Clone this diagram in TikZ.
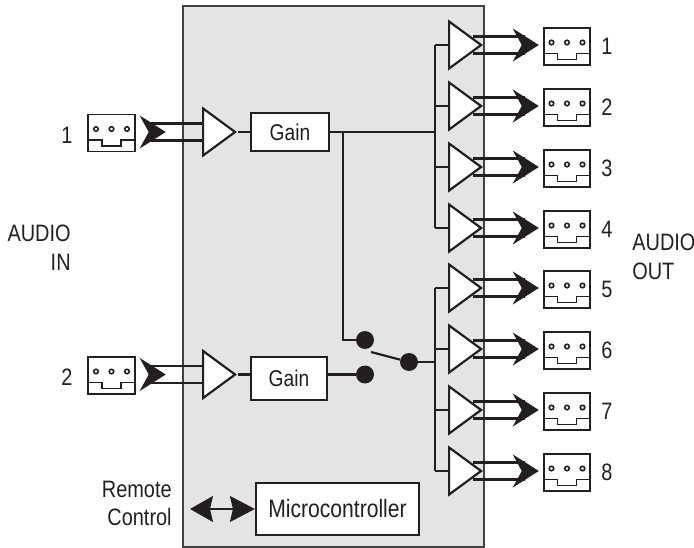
\documentclass[tikz,border=0pt]{standalone}
\usepackage{fontspec}
\setmainfont[FakeStretch=0.84]{Liberation Sans}
\usepackage{tikz}
\usetikzlibrary{arrows.meta,calc,shapes.geometric}
\definecolor{inkblack}{HTML}{231F20}
\definecolor{panelgray}{HTML}{E3E4E6}
\tikzset{
wire/.style={draw=inkblack,line width=1.25pt},
fat/.style={draw=inkblack,line width=0.6pt,-{Stealth[length=0.52cm,width=0.66cm,inset=0.18cm]}},
amp/.style={draw=inkblack,line width=1.25pt,fill=white,isosceles triangle,isosceles triangle stretches,inner sep=0pt,minimum width=0.94cm,minimum height=0.64cm,anchor=lower side},
block/.style={draw=inkblack,line width=1.25pt,fill=white,inner sep=0pt,font=\fontsize{14.3}{16}\selectfont,text=inkblack},
gainbox/.style={block,font=\fontsize{13}{15}\selectfont},
jackbox/.style={draw=inkblack,line width=1.1pt,fill=white,minimum width=0.93cm,minimum height=0.74cm,inner sep=0pt},
contact/.style={circle,fill=inkblack,inner sep=0pt,minimum size=0.36cm},
label/.style={font=\fontsize{13.5}{15}\selectfont,text=inkblack,inner sep=0pt},
}
\newcommand{\jack}[3]{
\node[jackbox] (#1) at (#2,#3) {};
\draw[inkblack,line width=1.1pt] ($(#1.center)+(-23.5,7)$) -- ++(14,0) -- ++(0,6) -- ++(19,0) -- ++(0,-6) -- ++(14,0);
\foreach \dx in {-15.5,0,15.5}
\draw[inkblack,line width=0.9pt,fill=white] ($(#1.center)+(\dx,-4)$) circle (0.045cm);
}
\begin{document}
\begin{tikzpicture}[x=0.02cm,y=-0.02cm]
\useasboundingbox (0,0) rectangle (694,548);
\draw[draw=inkblack!85,line width=1.25pt,fill=panelgray] (183,6) rectangle (484,547);
\coordinate (busA) at (435,45);
\coordinate (busB) at (435,228);
\coordinate (busC) at (435,288);
\coordinate (busD) at (435,471);
\coordinate (tap) at (343,132);
\coordinate (leverEnd) at (371,352);
\coordinate (remote) at (190,509);
% inputs
\foreach \i/\y in {1/132,2/374.5}{
\jack{in\i}{111.5}{\y+1}
\node[amp] (inamp\i) at (202,\y) {};
\coordinate (stop) at ([xshift=0.3cm]in\i.east);
\coordinate (upper) at ([shift={(0,-8.5)}]inamp\i.lower side);
\coordinate (lower) at ([shift={(0,8.5)}]inamp\i.lower side);
\draw[wire] (upper -| stop) -- (upper);
\draw[wire] (lower -| stop) -- (lower);
\draw[fat] ([shift={(15,0)}]in\i.east |- inamp\i.apex) -- ([shift={(30,0)}]in\i.east |- inamp\i.apex);
\node[label] (inlabel\i) at (67,\y+3) {\i};
}
\node[gainbox,minimum width=1.56cm,minimum height=0.76cm] (gainA) at (290,132) {Gain};
\node[gainbox,minimum width=1.52cm,minimum height=0.86cm] (gainB) at (289,378.5) {Gain};
\draw[wire] (inamp1.apex) -- (gainA.west);
\draw[wire] (inamp2.apex) -- (gainB.west |- inamp2.apex);
% switch
\node[contact] (dotA) at (365,340) {};
\node[contact] (dotB) at (365,374.5) {};
\node[contact] (dotC) at (409,362) {};
\draw[wire] (gainA.east) -- (gainA.east -| busA);
\draw[wire] (tap) |- (dotA);
\draw[wire] (gainB.east |- dotB) -- (dotB);
\draw[wire] (dotC) -- (leverEnd);
\draw[wire] (dotC) -- (dotC -| busA);
\draw[wire] (busA) -- (busB);
\draw[wire] (busC) -- (busD);
% outputs
\foreach \i/\y in {1/45,2/106,3/167,4/228,5/288,6/349,7/410,8/471}{
\jack{out\i}{567}{\y+1.5}
\node[amp] (outamp\i) at (448,\y) {};
\coordinate (stop) at ([xshift=-0.36cm]out\i.west);
\coordinate (upper) at ([shift={(-11,-8.5)}]outamp\i.apex);
\coordinate (lower) at ([shift={(-11,8.5)}]outamp\i.apex);
\draw[wire] (outamp\i.lower side) -- (outamp\i.lower side -| busA);
\draw[wire] (upper) -- (upper -| stop);
\draw[wire] (lower) -- (lower -| stop);
\draw[fat] ([shift={(-19,0)}]out\i.west |- outamp\i.apex) -- ([shift={(-4,0)}]out\i.west |- outamp\i.apex);
\node[label] (outlabel\i) at (607,\y+1) {\i};
}
% microcontroller
\node[block,minimum width=3.26cm,minimum height=1.04cm] (micro) at (337.5,509) {Microcontroller};
\draw[wire,line width=0.8pt,{Stealth[length=0.46cm,width=0.52cm,inset=0.06cm]}-{Stealth[length=0.5cm,width=0.52cm,inset=0.06cm]}] (remote) -- (micro.west);
% side labels
\node[label,align=right,anchor=east] (audioin) at (71,248) {AUDIO\\[0.1em]IN};
\node[label,align=left,anchor=west] (audioout) at (632,257) {AUDIO\\[0.1em]OUT};
\node[label,align=right,anchor=east] (remotelabel) at (172,503.5) {Remote\\[0.1em]Control};
\end{tikzpicture}
\end{document}
